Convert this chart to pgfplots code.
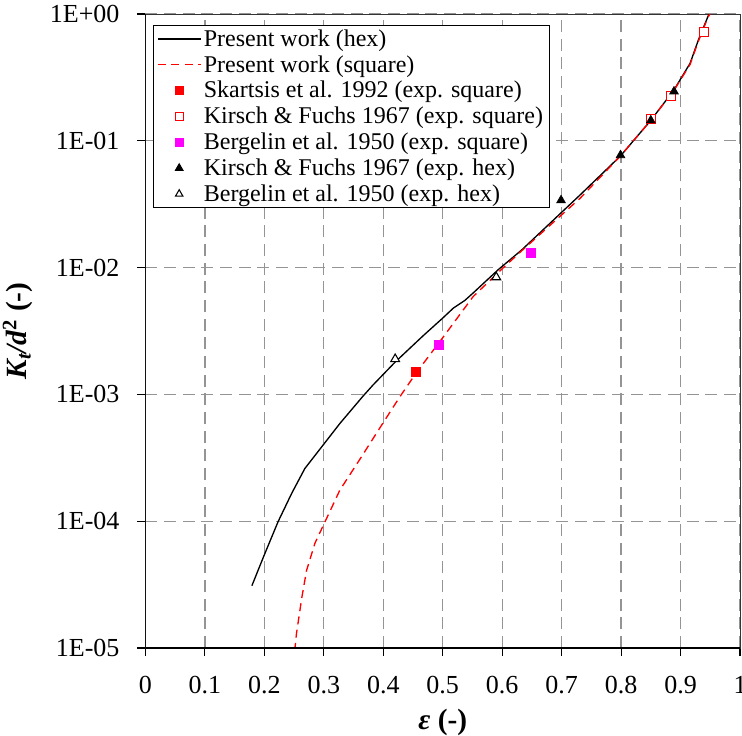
\documentclass[border=0pt]{standalone}
\usepackage{pgfplots}
\pgfplotsset{compat=1.18}
\usepackage{fontspec}
\setmainfont{Liberation Serif}
\definecolor{mag}{RGB}{255,0,255}
\pgfplotsset{
  lineleg/.style={legend image code/.code={\draw[##1] (0pt,0pt) -- (32pt,0pt);}},
  markleg/.style={legend image code/.code={\draw[##1, mark size=#1] plot coordinates {(16pt,0pt)};}},
}
\begin{document}
\begin{tikzpicture}
\begin{axis}[
  scale only axis,
  width=445.9pt, height=475.5pt,
  xmin=0, xmax=1,
  ymode=log, ymin=1e-5, ymax=1,
  xtick={0,0.1,0.2,0.3,0.4,0.5,0.6,0.7,0.8,0.9,1},
  xticklabels={0,0.1,0.2,0.3,0.4,0.5,0.6,0.7,0.8,0.9,1},
  ytick={1e-5,1e-4,1e-3,1e-2,1e-1,1},
  yticklabels={1E-05,1E-04,1E-03,1E-02,1E-01,1E+00},
  minor ytick={}, minor xtick={},
  log basis y=10,
  tick align=outside,
  major tick length=6pt,
  xtick pos=bottom, ytick pos=left,
  tick style={black, line width=0.8pt},
  ticklabel style={font=\fontsize{19.5}{20}\selectfont},
  yticklabel style={xshift=-10pt},
  xticklabel style={yshift=-12pt},
  grid=major,
  major grid style={black!42, dash pattern=on 9pt off 5pt, line width=1pt},
  axis line style={black!80, line width=0.7pt},
  xlabel={\textbf{\textit{ε}} \textbf{(-)}},
  ylabel={\textbf{\textit{K\textsubscript{t}/d}\textsuperscript{2} (-)}},
  label style={font=\fontsize{22}{24}\selectfont},
  xlabel style={yshift=-4pt},
  ylabel style={yshift=6pt},
  legend style={at={(0,1)}, anchor=north west, xshift=5.4pt, yshift=-8.25pt,
    draw=black, line width=0.8pt, font=\fontsize{18}{19}\selectfont,
    row sep=1.4pt, inner xsep=3pt, inner ysep=1pt,
    cells={anchor=west}},
]
\addplot[black, line width=1pt, no marks, lineleg]
coordinates {
(0.179,3.1e-5) (0.199,5.3e-5) (0.223,9.9e-5) (0.246,1.66e-4) (0.268,2.6e-4)
(0.299,4.0e-4) (0.327,5.9e-4) (0.366,9.7e-4) (0.383,1.19e-3) (0.42,1.8e-3)
(0.467,2.9e-3) (0.5,4.0e-3) (0.518,4.8e-3) (0.537,5.5e-3) (0.551,6.3e-3)
(0.593,9.6e-3) (0.633,1.38e-2) (0.7,2.73e-2) (0.731,0.0374) (0.799,0.076)
(0.85,0.145) (0.889,0.252) (0.916,0.408) (0.930,0.624) (0.946,0.953) (0.95,1.05)
};
\addlegendentry{Present work (hex)}
\addplot[red, line width=1pt, no marks, dash pattern=on 6pt off 4pt, lineleg]
coordinates {
(0.251,0.95e-5) (0.254,1.3e-5) (0.263,2.5e-5) (0.271,4.1e-5) (0.285,6.7e-5)
(0.302,9.9e-5) (0.327,1.76e-4) (0.361,3.1e-4) (0.399,5.9e-4) (0.428,9.6e-4)
(0.455,1.47e-3) (0.5,2.8e-3) (0.551,5.9e-3) (0.598,9.6e-3) (0.633,1.36e-2)
(0.731,0.0352) (0.799,0.076) (0.85,0.145) (0.889,0.25) (0.916,0.40)
(0.93,0.61) (0.946,0.94) (0.952,1.05)
};
\addlegendentry{Present work (square)}
\addplot[only marks, mark=square*, mark size=3.4pt, draw=red, fill=red, markleg=2.9pt]
coordinates {(0.455,1.5e-3)};
\addlegendentry{Skartsis et al. 1992 (exp. square)}
\addplot[only marks, mark=square*, mark size=3.4pt, draw=red, fill=white, line width=0.8pt, markleg=2.9pt]
coordinates {(0.85,0.148) (0.884,0.225) (0.940,0.72)};
\addlegendentry{Kirsch \& Fuchs 1967 (exp. square)}
\addplot[only marks, mark=square*, mark size=3.4pt, draw=mag, fill=mag, markleg=2.9pt]
coordinates {(0.494,2.45e-3) (0.648,1.3e-2)};
\addlegendentry{Bergelin et al. 1950 (exp. square)}
\addplot[only marks, mark=triangle*, mark size=3.8pt, draw=black, fill=black, markleg=3.2pt]
coordinates {(0.699,0.034) (0.799,0.077) (0.850,0.145) (0.889,0.245)};
\addlegendentry{Kirsch \& Fuchs 1967 (exp. hex)}
\addplot[only marks, mark=triangle*, mark size=3.8pt, draw=black, fill=white, line width=0.8pt, markleg=3.2pt]
coordinates {(0.42,1.9e-3) (0.59,8.4e-3)};
\addlegendentry{Bergelin et al. 1950 (exp. hex)}
\draw[black, line width=1.5pt] (rel axis cs:0,1) -- (rel axis cs:0,0) -- (rel axis cs:1,0);
\end{axis}
\pgfresetboundingbox
\path (-109.1pt,-65.25pt) rectangle (447.4pt,486pt);
\end{tikzpicture}
\end{document}
